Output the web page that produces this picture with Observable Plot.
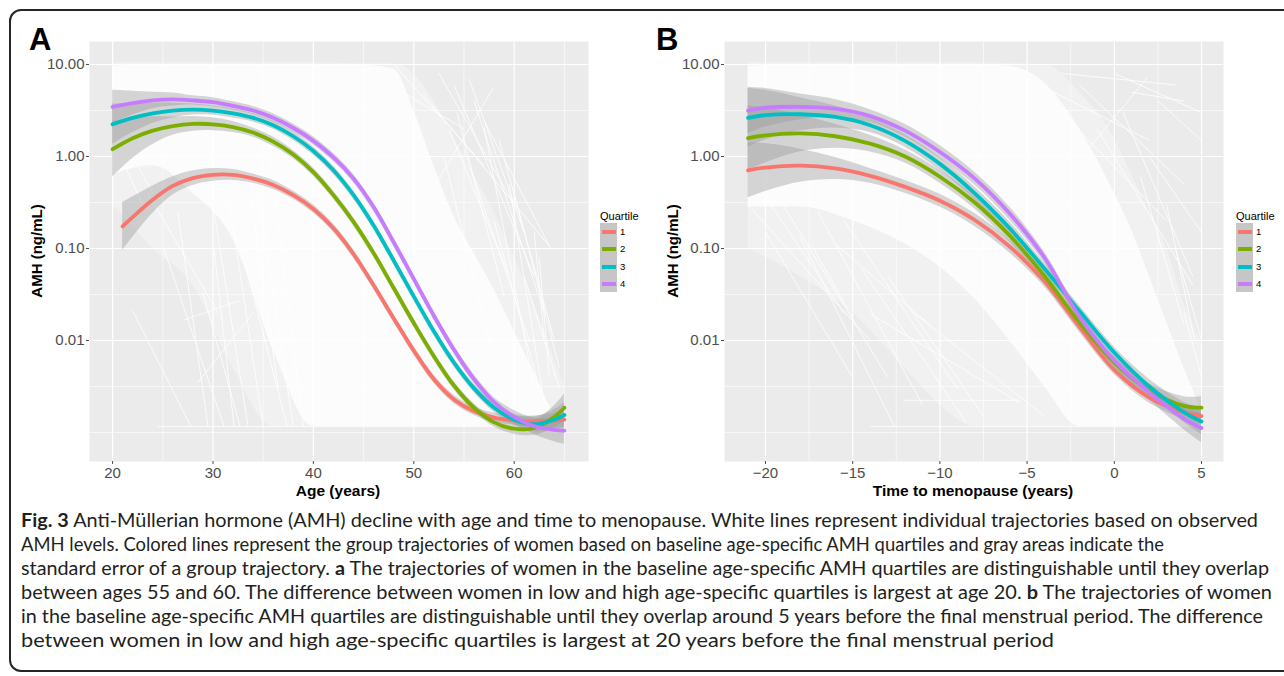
<!DOCTYPE html>
<html><head><meta charset="utf-8">
<script src="https://cdn.jsdelivr.net/npm/d3@7"></script>
<script src="https://cdn.jsdelivr.net/npm/@observablehq/plot@0.6"></script>
<style>
body{margin:0;background:#fff;}
#fig{position:relative;width:1284px;height:676px;overflow:hidden;font-family:"Liberation Sans",Arial,sans-serif;color:#000;}
.frame{position:absolute;left:9px;top:9px;width:1310px;height:663px;border:2px solid #262626;border-radius:12px;box-sizing:border-box;}
.panel{position:absolute;top:0;}
.tag{position:absolute;font-weight:bold;font-size:31px;line-height:1;}
.ytitle{position:absolute;font-weight:bold;font-size:15px;transform:translate(-50%,-50%) rotate(-90deg);white-space:nowrap;}
.xtitle{position:absolute;font-weight:bold;font-size:15.5px;transform:translate(-50%,-50%);white-space:nowrap;}
.legend{position:absolute;}
.legend .lt{font-size:11px;line-height:14px;height:14px;}
.legend .row{position:relative;height:17.25px;}
.legend .key{position:absolute;left:0;top:0;width:17px;height:17.25px;background:#c6c6c6;}
.legend .bar{position:absolute;left:1.5px;top:7px;width:14px;height:4px;}
.legend .lab{position:absolute;left:20px;top:2px;font-size:9.5px;line-height:13px;}
#cap{position:absolute;left:0;top:500px;}
</style></head>
<body><div id="fig"><div class="frame"></div></div>
<script>
// ---------- data ----------
const quartiles = ["1","2","3","4"];
const quartileColors = ["#F8766D","#7CAE00","#00BFC4","#C77CFF"];

// Panel A: age (years)
const ageA_q1 = [21,22,24,26,28,30,32,34,36,38,40,42,44,46,48,50,52,54,56,58,60,62,64,65];
const ageA = [20,22,24,26,28,30,32,34,36,38,40,42,44,46,48,50,52,54,56,58,60,62,64,65];
const amhA_q1 = [0.174,0.219,0.339,0.479,0.582,0.631,0.631,0.575,0.490,0.380,0.269,0.166,0.0871,0.0398,0.0174,0.00776,0.00380,0.00229,0.00170,0.00145,0.00135,0.00132,0.00135,0.00138];
const amhA_q2 = [1.20,1.58,1.91,2.14,2.26,2.24,2.09,1.82,1.45,1.05,0.676,0.380,0.195,0.0891,0.0372,0.0155,0.00676,0.00324,0.00186,0.00129,0.00110,0.00112,0.00148,0.00186];
const amhA_q3 = [2.24,2.63,2.95,3.16,3.24,3.16,2.95,2.63,2.19,1.66,1.15,0.708,0.380,0.178,0.0741,0.0302,0.0126,0.00575,0.00302,0.00186,0.00138,0.00123,0.00138,0.00155];
const amhA_q4 = [3.47,3.80,4.07,4.17,4.07,3.89,3.55,3.16,2.63,2.04,1.48,0.977,0.575,0.282,0.117,0.0468,0.0186,0.00794,0.00380,0.00214,0.00148,0.00117,0.00107,0.00105];
// standard error (log10 half-width)
const seA_q1 = [0.26,0.22,0.15,0.10,0.08,0.07,0.06,0.05,0.05,0.045,0.045,0.045,0.045,0.045,0.045,0.045,0.045,0.045,0.045,0.05,0.05,0.06,0.08,0.09];
const seA_q2 = [0.30,0.22,0.15,0.10,0.08,0.07,0.06,0.05,0.05,0.045,0.045,0.045,0.045,0.045,0.045,0.045,0.045,0.045,0.045,0.05,0.06,0.08,0.12,0.15];
const seA_q3 = [0.22,0.16,0.11,0.08,0.06,0.05,0.05,0.045,0.045,0.045,0.045,0.045,0.045,0.045,0.045,0.045,0.045,0.045,0.045,0.05,0.06,0.08,0.11,0.13];
const seA_q4 = [0.18,0.13,0.09,0.07,0.05,0.05,0.045,0.045,0.045,0.045,0.045,0.045,0.045,0.045,0.045,0.045,0.045,0.045,0.05,0.05,0.07,0.09,0.13,0.15];

// Panel B: time to menopause (years)
const tB = [-21,-20,-18,-16,-14,-12,-10,-8,-6,-4,-2,0,2,4,5];
const amhB_q1 = [0.708,0.759,0.794,0.741,0.617,0.468,0.331,0.204,0.105,0.0437,0.0141,0.00479,0.00240,0.00166,0.00151];
const amhB_q2 = [1.58,1.70,1.78,1.66,1.38,1.0,0.603,0.316,0.138,0.0501,0.0158,0.00575,0.00288,0.00195,0.00186];
const amhB_q3 = [2.63,2.82,2.88,2.69,2.19,1.48,0.832,0.398,0.166,0.0603,0.0209,0.00741,0.00316,0.00166,0.00132];
const amhB_q4 = [3.16,3.39,3.47,3.31,2.75,1.91,1.12,0.575,0.240,0.0794,0.0182,0.00603,0.00275,0.00141,0.00112];
const seB_q1 = [0.30,0.26,0.18,0.12,0.08,0.07,0.07,0.07,0.07,0.06,0.06,0.05,0.06,0.08,0.10];
const seB_q2 = [0.35,0.30,0.20,0.13,0.09,0.07,0.07,0.07,0.07,0.06,0.06,0.06,0.07,0.10,0.12];
const seB_q3 = [0.32,0.27,0.18,0.12,0.08,0.07,0.07,0.07,0.07,0.06,0.06,0.06,0.08,0.11,0.14];
const seB_q4 = [0.25,0.21,0.14,0.10,0.07,0.07,0.07,0.07,0.07,0.06,0.06,0.06,0.08,0.12,0.16];

// Individual trajectories: dense envelopes and sparse lines [x1, amh1, x2, amh2]
const whiteA_x = [20,24,28,32,36,40,44,48,50,52,54,56,58,60,62,64,65];
const coreA_hi = [9.55,10,10,10,10,10,10,8.91,3.16,0.794,0.224,0.0891,0.0355,0.0126,0.00447,0.00158,0.00117];
const coreA_lo = [0.631,0.794,0.398,0.126,0.00794,0.00116,0.00116,0.00116,0.00116,0.00116,0.00116,0.00116,0.00116,0.00116,0.00116,0.00116,0.00116];
const outerA_hi = [10.5,10.5,10.5,10.5,10.5,10.5,10.2,10.2,7.94,3.98,1.58,0.631,0.251,0.0794,0.0251,0.00631,0.00316];
const outerA_lo = [0.3,0.1,0.0398,0.00501,0.00116,0.00116,0.00116,0.00116,0.00116,0.00116,0.00116,0.00116,0.00116,0.00116,0.00116,0.00116,0.00116];
const linesA = [
  [22.0,0.0212,27.8,0.00116],[27.0,0.0166,32.7,0.0272],[25.1,0.100,31.1,0.00116],[29.0,0.0331,32.7,0.00116],
  [30.1,0.100,32.1,0.00116],[32.7,0.110,37.4,0.00116],[26.5,0.25,29.5,0.00116],[31.5,0.4,35.0,0.00116],
  [33.5,0.6,36.5,0.003],[28.5,0.0035,34.0,0.02],[24.5,0.00116,65.0,0.00116],[50.9,4.79,63.6,0.103],
  [57.9,5.5,52.0,0.46],[57.0,2.45,63.6,0.102],[57.0,2.09,61.9,0.00339],[54.3,3.0,59.0,0.03],
  [59.5,0.5,63.0,0.002],[61.0,0.05,64.5,0.003],[62.5,0.08,63.5,0.004],[53.0,1.0,58.0,0.006],
  [55.5,7.0,61.0,0.15],[45.0,9.0,55.0,2.0],[48.0,10.0,57.0,0.8],
  [52.5,8.0,60.0,0.3],[54.0,6.0,62.0,0.05],[56.0,4.0,63.0,0.02],[58.5,1.5,64.0,0.01],[60.0,0.4,64.5,0.005],
  [53.5,2.0,59.5,0.05],[55.0,1.2,61.5,0.01],[62.0,0.15,63.0,0.01],[58.0,0.2,62.5,0.003],[20.5,2.0,24.0,0.4],
  [21.0,0.9,23.0,0.3],[34.0,0.9,38.0,0.00116],[35.5,1.5,39.0,0.00116],[23.5,0.4,30.5,0.02],[30.0,0.3,33.5,0.00116]
];
const whiteB_x = [-21,-18,-15,-12,-10,-8,-6,-4,-2,0,1,2,3,4,5];
const coreB_hi = [9.55,10,10,10,10,10,9.55,6.31,2.0,0.398,0.158,0.0501,0.0158,0.00501,0.00178];
const coreB_lo = [0.282,0.282,0.200,0.112,0.0631,0.0282,0.01,0.00316,0.00116,0.00116,0.00116,0.00116,0.00116,0.00116,0.00116];
const outerB_hi = [10.5,10.5,10.5,10.5,10.5,10.5,10.2,10,5.0,1.58,0.631,0.251,0.1,0.0251,0.01];
const outerB_lo = [0.1,0.0501,0.02,0.00501,0.002,0.00116,0.00116,0.00116,0.00116,0.00116,0.00116,0.00116,0.00116,0.00116,0.00116];
const linesB = [
  [-18.0,0.132,-12.6,0.00116],[-17.4,0.112,-15.0,0.0178],[-16.0,0.112,-10.4,0.0138],[-14.0,0.0195,-5.4,0.00209],
  [-14.0,0.00116,5.0,0.00116],[-12.1,0.00224,-5.4,0.00224],[-1.4,1.26,1.9,7.24],[-20.5,0.5,-15.5,0.02],
  [-19.0,0.3,-13.0,0.004],[-15.5,0.2,-9.0,0.003],[-13.0,0.05,-7.5,0.0015],[0.5,3.0,4.5,0.05],
  [-2.0,6.0,4.0,0.5],[1.0,5.0,4.0,4.0],[2.0,1.0,5.0,0.15],[3.0,0.3,4.6,0.01],[-3.0,8.0,3.5,6.0],[4.0,0.02,5.0,0.004],
  [-21.0,0.3,-14.0,0.01],[-20.0,0.15,-15.0,0.004],[-17.0,0.25,-11.0,0.002],[-14.5,0.06,-8.5,0.0013],
  [-11.5,0.02,-4.0,0.0015],[-3.0,3.0,3.0,0.2],[-1.0,2.0,4.5,0.04],[0.0,8.0,5.0,3.0],[1.5,0.6,4.0,0.015],
  [3.5,0.1,5.0,0.01],[-5.0,7.0,2.0,1.5],[2.5,4.0,5.0,1.5]
];

// axes
const yMajor = [10, 1, 0.1, 0.01];
const yMinor = [3.162, 0.3162, 0.03162, 0.003162, 0.001];
const xMajorA = [20,30,40,50,60], xMinorA = [25,35,45,55,65];
const xMajorB = [-20,-15,-10,-5,0,5], xMinorB = [-17.5,-12.5,-7.5,-2.5,2.5];

// ---------- drawing ----------
function rows(xs, vs, ses, q){ return xs.map((x,i)=>({x, v:vs[i], lo:vs[i]/Math.pow(10,ses[i]), hi:vs[i]*Math.pow(10,ses[i]), q})); }
function env(xs, lo, hi){ return xs.map((x,i)=>({x, lo:lo[i], hi:hi[i]})); }
function segs(list){ return list.map(d=>({x1:d[0], y1:d[1], x2:d[2], y2:d[3]})); }

function panel(o){
  return Plot.plot({
    width:640, height:500, marginLeft:o.ml, marginRight:o.mr, marginTop:41, marginBottom:39,
    style:{fontFamily:'"Liberation Sans", Arial, sans-serif', fontSize:"15px", background:"transparent", overflow:"visible"},
    x:{domain:o.xDomain},
    y:{type:"log", domain:[Math.pow(10,-3.315), Math.pow(10,1.25)]},
    color:{domain:quartiles, range:quartileColors},
    marks:[
      Plot.frame({fill:"#EBEBEB", stroke:null}),
      Plot.ruleX(o.xMinor, {stroke:"white", strokeWidth:0.6}),
      Plot.ruleY(yMinor, {stroke:"white", strokeWidth:0.6}),
      Plot.ruleX(o.xMajor, {stroke:"white", strokeWidth:1.2}),
      Plot.ruleY(yMajor, {stroke:"white", strokeWidth:1.2}),
      Plot.areaY(o.outer, {x:"x", y1:"lo", y2:"hi", fill:"white", fillOpacity:0.3, curve:"monotone-x"}),
      Plot.areaY(o.core, {x:"x", y1:"lo", y2:"hi", fill:"white", fillOpacity:0.8, curve:"monotone-x"}),
      Plot.link(o.links, {x1:"x1", y1:"y1", x2:"x2", y2:"y2", stroke:"white", strokeWidth:0.9, strokeOpacity:0.9}),
      Plot.areaY(o.data, {x:"x", y1:"lo", y2:"hi", z:"q", fill:"#999999", fillOpacity:0.4, curve:"catmull-rom"}),
      Plot.line(o.data, {x:"x", y:"v", z:"q", stroke:"q", strokeWidth:3.8, curve:"catmull-rom"}),
      Plot.axisX({ticks:o.xMajor, tickSize:3, tickPadding:3, label:null, fontSize:15, color:"#4d4d4d"}),
      Plot.axisY({ticks:yMajor, tickSize:3, tickPadding:2, label:null, fontSize:15, color:"#4d4d4d", tickFormat:d=>d.toFixed(2)})
    ]
  });
}

const dataA = [].concat(rows(ageA_q1, amhA_q1, seA_q1, "1"), rows(ageA, amhA_q2, seA_q2, "2"), rows(ageA, amhA_q3, seA_q3, "3"), rows(ageA, amhA_q4, seA_q4, "4"));
const dataB = [].concat(rows(tB, amhB_q1, seB_q1, "1"), rows(tB, amhB_q2, seB_q2, "2"), rows(tB, amhB_q3, seB_q3, "3"), rows(tB, amhB_q4, seB_q4, "4"));

const fig = document.getElementById("fig");
function add(el, css){ Object.assign(el.style, css||{}); fig.appendChild(el); return el; }
function div(cls, text, css){ const d=document.createElement("div"); d.className=cls; if(text!=null) d.textContent=text; return add(d, css); }

const pA = panel({ml:89, mr:52, xDomain:[17.7,67.4], xMajor:xMajorA, xMinor:xMinorA, data:dataA,
  outer:env(whiteA_x, outerA_lo, outerA_hi), core:env(whiteA_x, coreA_lo, coreA_hi), links:segs(linesA)});
const wA = document.createElement("div"); wA.className="panel"; wA.appendChild(pA); add(wA,{left:"0px"});
const pB = panel({ml:84, mr:57, xDomain:[-22.35,6.26], xMajor:xMajorB, xMinor:xMinorB, data:dataB,
  outer:env(whiteB_x, outerB_lo, outerB_hi), core:env(whiteB_x, coreB_lo, coreB_hi), links:segs(linesB)});
const wB = document.createElement("div"); wB.className="panel"; wB.appendChild(pB); add(wB,{left:"640px"});

div("tag","A",{left:"29px", top:"24px"});
div("tag","B",{left:"656px", top:"24px"});
div("ytitle","AMH (ng/mL)",{left:"36px", top:"251px"});
div("ytitle","AMH (ng/mL)",{left:"672px", top:"251px"});
div("xtitle","Age (years)",{left:"338px", top:"491px"});
div("xtitle","Time to menopause (years)",{left:"973px", top:"491px"});

function legend(left){
  const L = div("legend", null, {left:left+"px", top:"209px"});
  const t = document.createElement("div"); t.className="lt"; t.textContent="Quartile"; L.appendChild(t);
  quartiles.forEach((q,i)=>{
    const r=document.createElement("div"); r.className="row";
    const k=document.createElement("div"); k.className="key";
    const b=document.createElement("div"); b.className="bar"; b.style.background=quartileColors[i]; k.appendChild(b);
    const l=document.createElement("div"); l.className="lab"; l.textContent=q;
    r.appendChild(k); r.appendChild(l); L.appendChild(r);
  });
}
legend(600); legend(1236);

// caption
const capLines = [
  {parts:[["Fig. 3",true],[" Anti-Müllerian hormone (AMH) decline with age and time to menopause. White lines represent individual trajectories based on observed",false]], w:1237},
  {parts:[["AMH levels. Colored lines represent the group trajectories of women based on baseline age-specific AMH quartiles and gray areas indicate the",false]], w:1143},
  {parts:[["standard error of a group trajectory. ",false],["a",true],[" The trajectories of women in the baseline age-specific AMH quartiles are distinguishable until they overlap",false]], w:1248},
  {parts:[["between ages 55 and 60. The difference between women in low and high age-specific quartiles is largest at age 20. ",false],["b",true],[" The trajectories of women",false]], w:1251},
  {parts:[["in the baseline age-specific AMH quartiles are distinguishable until they overlap around 5 years before the final menstrual period. The difference",false]], w:1242},
  {parts:[["between women in low and high age-specific quartiles is largest at 20 years before the final menstrual period",false]], w:1033}
];
const ns="http://www.w3.org/2000/svg";
const cap = document.createElementNS(ns,"svg"); cap.setAttribute("id","cap"); cap.setAttribute("width","1284"); cap.setAttribute("height","176");
capLines.forEach((ln,i)=>{
  const t=document.createElementNS(ns,"text");
  t.setAttribute("x","21"); t.setAttribute("y", String(27+24*i));
  t.setAttribute("font-family","Lato, 'Open Sans', sans-serif"); t.setAttribute("font-size","18.5"); t.setAttribute("fill","#231f20");
  t.setAttribute("textLength", String(ln.w)); t.setAttribute("lengthAdjust","spacingAndGlyphs");
  ln.parts.forEach(p=>{ const s=document.createElementNS(ns,"tspan"); s.textContent=p[0]; if(p[1]) s.setAttribute("font-weight","bold"); t.appendChild(s); });
  cap.appendChild(t);
});
fig.appendChild(cap);
</script></body></html>
